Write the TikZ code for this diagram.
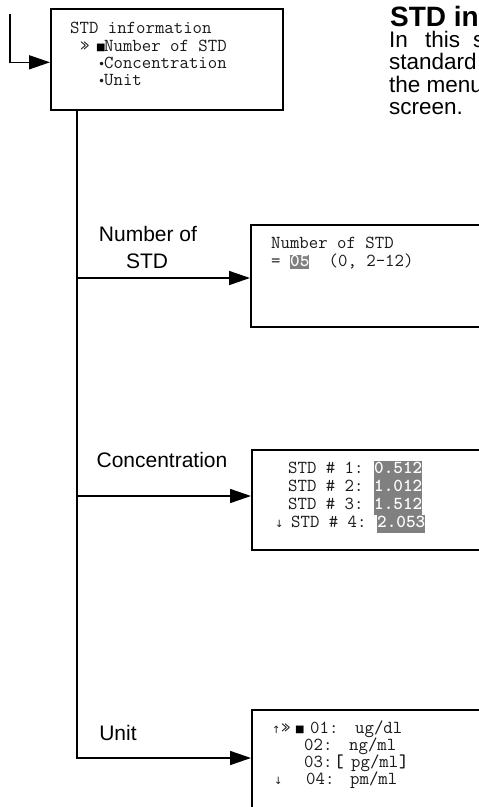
\documentclass[tikz,border=0pt]{standalone}
\usepackage{fontspec}
\setmainfont{Liberation Sans}
\newfontfamily\symf{DejaVu Sans}
\usetikzlibrary{arrows.meta}
\definecolor{scrtext}{HTML}{1a1a1a}
\definecolor{hlgray}{HTML}{808080}
\newcommand{\monosize}{\ttfamily\fontsize{18.3}{20}\selectfont}
\tikzset{
  box/.style={draw, line width=1.6pt, anchor=north west, inner sep=0pt},
  mono/.style={font=\monosize, inner sep=0pt, anchor=base west, text=scrtext},
  monob/.style={font=\monosize\bfseries, inner sep=0pt, anchor=base west, text=scrtext},
  hl/.style={font=\monosize\bfseries, inner sep=0pt, anchor=base west, text=white,
    fill=hlgray, text height=11.5pt, text depth=3pt},
  hlc/.style={hl, text height=12.5pt, text depth=5.5pt},
  small/.style={font=\symf\fontsize{10}{12}\selectfont, inner sep=0pt, anchor=base west, text=scrtext},
  bul/.style={font=\symf\fontsize{12}{12}\selectfont, inner sep=0pt, anchor=base west, text=scrtext},
  sq/.style={font=\symf\fontsize{10}{12}\selectfont, inner sep=0pt, anchor=base west, text=black},
  lbl/.style={font=\fontsize{21}{24}\selectfont, inner sep=0pt, anchor=base},
  body/.style={font=\fontsize{22.5}{24}\selectfont, inner sep=0pt, anchor=base west},
  conn/.style={line width=1.6pt},
  arr/.style={conn, -{Triangle[length=21pt,width=14pt]}}
}
\begin{document}
\begin{tikzpicture}[x=1pt,y=-1pt]
\useasboundingbox (0,0) rectangle (479,807);
\clip (0,0) rectangle (479,807);
\fill[white] (0,0) rectangle (479,807);

% boxes
\node[box, minimum width=232pt, minimum height=101pt] (menu) at (50,8) {};
\node[box, minimum width=270pt, minimum height=102pt] (nstd) at (250,224) {};
\node[box, minimum width=270pt, minimum height=100pt] (conc) at (251,449) {};
\node[box, minimum width=270pt, minimum height=130pt] (unit) at (251,709) {};

% connectors
\coordinate (in) at (10,14);
\coordinate (t0) at (77,109);
\coordinate (b1) at (77,278);
\coordinate (b2) at (77,496);
\coordinate (b3) at (77,758);
\draw[arr] (in) |- ([yshift=-3pt]menu.west);
\draw[arr] (t0) |- (b3 -| unit.west);
\draw[arr] (b1) -- (b1 -| nstd.west);
\draw[arr] (b2) -- (b2 -| conc.west);

% labels
\node[lbl] (lnum1) at (148,241) {Number of};
\node[lbl] (lnum2) at (147,268) {STD};
\node[lbl] (lconc) at (162,467) {Concentration};
\node[lbl] (lunit) at (118,740) {Unit};

% menu box text
\node[mono] (m1) at (70,33) {STD information};
\node[mono] (m2a) at (80,51) {»};
\node[sq] (m2b) at (96,50.5) {■};
\node[mono] (m2c) at (104,51) {Number of STD};
\node[bul] (m3a) at (98,68) {•};
\node[mono] (m3b) at (104,68) {Concentration};
\node[bul] (m4a) at (98,85.5) {•};
\node[mono] (m4b) at (104,85.5) {Unit};

% number of STD screen
\node[mono] (n1) at (271,248) {Number of STD};
\node[mono] (n2a) at (271,266) {=};
\node[hl] (n2b) at (290,266) {05};
\node[mono] (n2c) at (328.5,266) {(0, 2-12)};

% concentration screen
\node[mono] (c1) at (288,473) {STD \# 1:};
\node[hlc] (c1v) at (374,473) {0.512};
\node[mono] (c2) at (288,491) {STD \# 2:};
\node[hlc] (c2v) at (374,491) {1.012};
\node[mono] (c3) at (288,509) {STD \# 3:};
\node[hlc] (c3v) at (374,509) {1.512};
\node[small] (c4a) at (275,527) {↓};
\node[mono] (c4) at (291,527) {STD \# 4:};
\node[hlc] (c4v) at (377,527) {2.053};

% unit screen
\node[small] (u1a) at (272,733) {↑};
\node[mono] (u1b) at (281,733) {»};
\node[sq] (u1c) at (295,732.5) {■};
\node[mono] (u1d) at (310,733) {01:};
\node[mono] (u1e) at (355,733) {ug/dl};
\node[mono] (u2a) at (304,750) {02:};
\node[mono] (u2b) at (349,750) {ng/ml};
\node[mono] (u3a) at (304,767) {03:};
\node[monob] (u3b) at (334,767) {[};
\node[mono] (u3c) at (351,767) {pg/ml};
\node[monob] (u3d) at (399,767) {]};
\node[small] (u4a) at (274,784) {↓};
\node[mono] (u4b) at (306,784) {04:};
\node[mono] (u4c) at (350,784) {pm/ml};

% right-hand text (cut by the picture's edge, as in the reference)
\node[body, font=\bfseries\fontsize{28}{28}\selectfont, text depth=0pt] (head) at (390,26) {STD information};
\node[body] (p1a) at (389,47) {In};
\node[body] (p1b) at (425,47) {this};
\node[body] (p1c) at (473,47) {screen,};
\node[body] (p2) at (389,69.5) {standard information};
\node[body] (p3) at (389,92) {the menu};
\node[body] (p4) at (389,114) {screen.};
\end{tikzpicture}
\end{document}
